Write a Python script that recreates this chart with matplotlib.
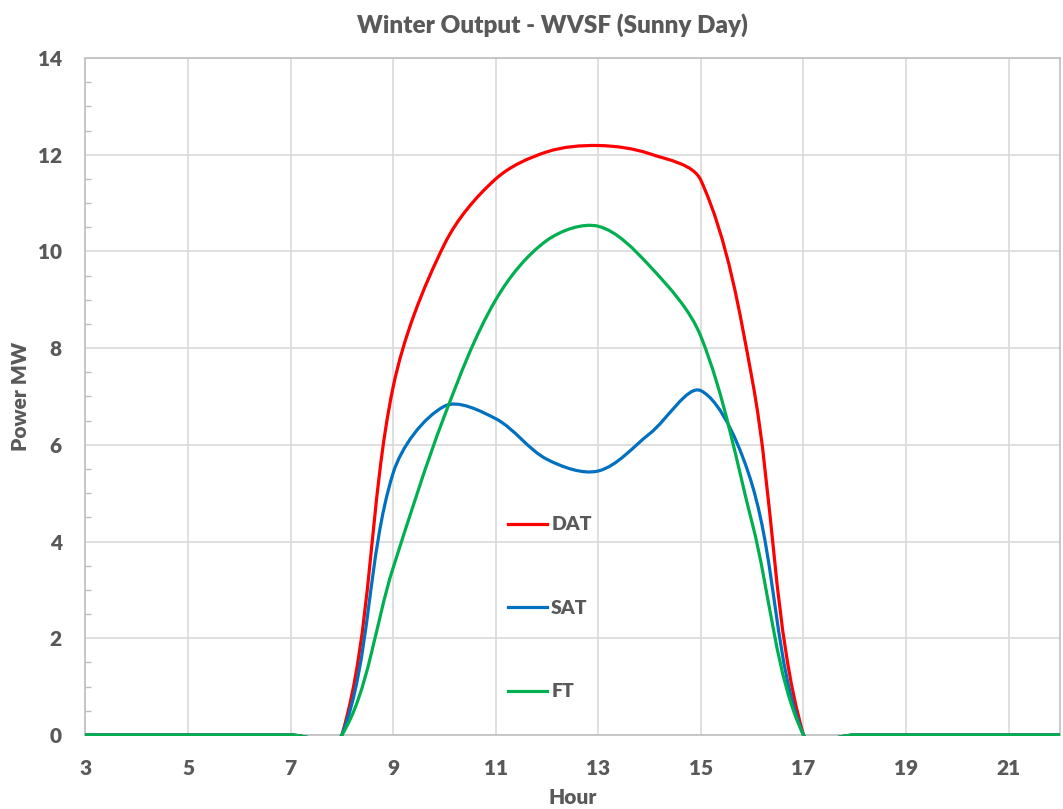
import numpy as np
import matplotlib
matplotlib.use("Agg")
import matplotlib.pyplot as plt
from matplotlib.path import Path
from matplotlib.patches import PathPatch, Rectangle
from matplotlib.lines import Line2D
from matplotlib.ticker import MultipleLocator

plt.rcParams['font.family'] = ['Lato', 'DejaVu Sans']
plt.rcParams['font.weight'] = 'heavy'

# hourly output, MW
hours = [3, 4, 5, 6, 7, 8, 9, 10, 11, 12, 13, 14, 15, 16, 17, 18, 19, 20, 21, 22]
dat = [0, 0, 0, 0, 0, 0, 7.2, 10.15, 11.5, 12.06, 12.19, 12.02, 11.47, 7.35, 0, 0, 0, 0, 0, 0]
sat = [0, 0, 0, 0, 0, 0, 5.42, 6.8, 6.54, 5.7, 5.46, 6.23, 7.12, 5.17, 0, 0, 0, 0, 0, 0]
ft = [0, 0, 0, 0, 0, 0, 3.46, 6.6, 9.0, 10.23, 10.52, 9.7, 8.24, 4.38, 0, 0, 0, 0, 0, 0]

series_names = ['DAT', 'SAT', 'FT']
series_colors = ['#FF0000', '#0070C0', '#00B050']
x_ticks = [3, 5, 7, 9, 11, 13, 15, 17, 19, 21]

TXT = '#595959'
GRID = '#D9D9D9'
AXC = '#BFBFBF'
W = 'heavy'


def smooth_path(ax, xs, ys):
    # Excel style smoothed line: cubic bezier whose handles are scaled by
    # the on-screen length of the neighbouring segments
    pts = np.column_stack([xs, ys]).astype(float)
    scr = ax.transData.transform(pts)
    n = len(pts)
    verts = [pts[0]]
    codes = [Path.MOVETO]
    for i in range(n - 1):
        i0 = max(i - 1, 0)
        i3 = min(i + 2, n - 1)
        d01 = np.hypot(*(scr[i] - scr[i0]))
        d12 = np.hypot(*(scr[i + 1] - scr[i]))
        d23 = np.hypot(*(scr[i3] - scr[i + 1]))
        w1 = d12 / (d01 + d12) if d01 + d12 > 0 else 0.5
        w2 = d12 / (d12 + d23) if d12 + d23 > 0 else 0.5
        c1 = pts[i] + (pts[i + 1] - pts[i0]) * w1 / 3
        c2 = pts[i + 1] - (pts[i3] - pts[i]) * w2 / 3
        verts += [c1, c2, pts[i + 1]]
        codes += [Path.CURVE4] * 3
    return Path(verts, codes)


fig = plt.figure(figsize=(10.63, 8.09), dpi=100)
ax = fig.add_axes([0.0804, 0.0915, 0.9167, 0.8368])

xmin, xmax, ymin, ymax = 3, 22, 0, 14
ax.set_xlim(xmin, xmax)
ax.set_ylim(ymin, ymax)

clip = Rectangle((xmin, ymin - 0.03), xmax - xmin, ymax - ymin + 0.03,
                 transform=ax.transData, fill=False, visible=False)
ax.add_patch(clip)

handles = []
for vals, name, col in zip([dat, sat, ft], series_names, series_colors):
    p = PathPatch(smooth_path(ax, hours, vals), fill=False, edgecolor=col, lw=2.3,
                  zorder=3, capstyle='round', joinstyle='round')
    ax.add_patch(p)
    p.set_clip_path(clip)
    handles.append(Line2D([], [], color=col, lw=2.3))

ax.set_xticks(x_ticks)
ax.yaxis.set_major_locator(MultipleLocator(2))
ax.yaxis.set_minor_locator(MultipleLocator(0.5))
ax.grid(True, which='major', color=GRID, lw=1.2)
ax.set_axisbelow(True)

for s in ax.spines.values():
    s.set_color(AXC)
    s.set_linewidth(1.2)

ax.tick_params(axis='x', which='major', length=0, pad=17, labelsize=15, labelcolor=TXT)
ax.tick_params(axis='y', which='major', length=0, pad=17, labelsize=15, labelcolor=TXT)
ax.tick_params(axis='y', which='minor', direction='in', length=4, width=1.0, color=AXC)
for lab in ax.get_xticklabels() + ax.get_yticklabels():
    lab.set_fontweight(W)

ax.set_xlabel('Hour', fontsize=15, color=TXT, fontweight=W)
ax.set_ylabel('Power MW', fontsize=15, color=TXT, fontweight=W)
ax.xaxis.set_label_coords(0.5, -0.093)
ax.xaxis.label.set_va('center')
ax.yaxis.set_label_coords(-0.067, 0.5)
ax.yaxis.label.set_va('center')

fig.text(552 / 1063, 1 - 25 / 809, 'Winter Output - WVSF (Sunny Day)', ha='center', va='center',
         fontsize=17.5, fontweight=W, color=TXT)

leg = ax.legend(handles, series_names, loc='upper left', bbox_to_anchor=(0.434, 0.323),
                frameon=False, labelspacing=3.42, handlelength=2.0,
                handletextpad=0.2, borderpad=0, borderaxespad=0, labelcolor=TXT,
                prop={'weight': W, 'size': 14})

fig.savefig('out.png', dpi=100)
